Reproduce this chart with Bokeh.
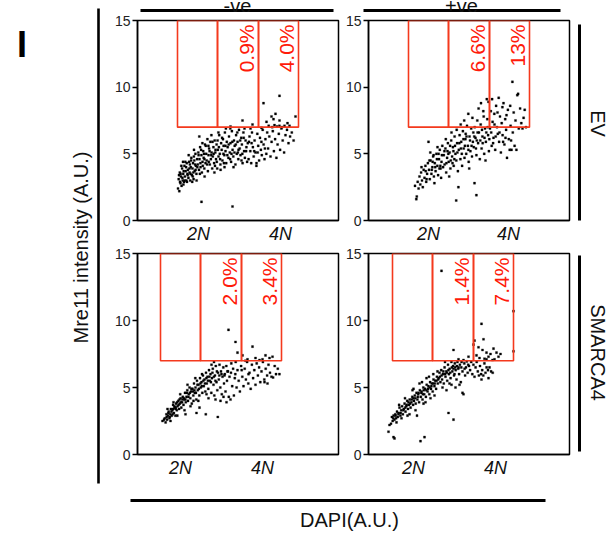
import numpy as np
from bokeh.plotting import figure
from bokeh.layouts import row, column
from bokeh.models import Range1d, FixedTicker
from bokeh.embed import file_html
from bokeh.resources import INLINE
from bokeh.core.properties import value

FONT = "Liberation Sans"

# ---------------- data (DAPI in arbitrary units 0-201, Mre11 in A.U. 0-15) ----------------
ev_neg_pts = [
    (40.5,2.4),(41.2,3.1),(41.8,2.2),(42.3,3.6),(42.9,2.8),(43.4,3.3),(44.1,2.6),(44.6,3.9),(45.2,3.0),(45.7,3.5),
    (46.5,2.9),(46.9,4.1),(47.4,3.3),(48.2,3.7),(48.8,3.0),(49.3,4.3),(49.9,3.5),(41.5,3.4),(43.8,4.1),(45.9,2.7),
    (47.8,4.4),(49.5,2.9),(44.9,3.2),(42.5,2.9),(46.2,3.7),
    (50.4,3.8),(50.9,3.2),(51.6,4.4),(52.1,3.6),(52.7,3.0),(53.3,4.0),(53.8,4.7),(54.4,3.4),(55.0,3.9),(55.5,4.3),
    (56.1,3.1),(56.8,4.5),(57.2,3.7),(57.9,5.0),(58.4,4.1),(58.9,3.5),(59.6,4.6),(51.2,4.9),(54.7,2.9),(56.5,5.3),
    (59.1,3.0),(53.0,3.5),(57.6,4.2),(52.4,4.2),(55.8,3.6),
    (60.3,4.2),(60.8,5.1),(61.5,3.8),(62.0,4.6),(62.6,5.5),(63.1,4.0),(63.9,4.9),(64.4,3.6),(65.0,4.4),(65.7,5.2),
    (66.2,4.7),(66.8,3.9),(67.5,5.7),(68.0,4.3),(68.7,5.0),(69.2,4.5),(69.9,6.1),(70.4,3.7),(71.0,4.9),(71.6,5.4),
    (72.3,4.2),(72.8,5.9),(73.4,4.6),(74.1,5.1),(74.7,3.9),(61.8,6.3),(64.9,5.8),(67.1,3.3),(70.9,5.6),(73.9,6.4),
    (62.9,4.3),(66.5,5.0),
    (75.3,4.8),(75.9,5.5),(76.6,4.3),(77.2,6.0),(77.8,5.1),(78.5,4.6),(79.1,5.7),(79.7,3.9),(80.4,5.3),(81.0,4.8),
    (81.7,6.4),(82.3,5.0),(82.9,4.2),(83.6,5.8),(84.2,5.3),(84.9,4.5),(85.5,6.1),(86.1,5.6),(86.8,4.9),(87.4,6.6),
    (88.0,5.2),(88.7,4.3),(89.3,5.9),(76.9,3.6),(80.9,6.6),(83.1,3.8),(85.9,5.0),(88.4,6.9),(78.0,5.3),(87.0,4.0),
    (90.2,5.5),(90.9,4.7),(91.5,6.3),(92.3,5.1),(93.0,5.8),(93.6,4.4),(94.4,6.7),(95.1,5.3),(95.8,4.8),(96.5,6.0),
    (97.2,5.6),(97.9,4.2),(98.6,6.4),(99.3,5.0),(100.1,5.9),(100.8,4.6),(101.5,6.8),(102.2,5.4),(103.0,4.9),
    (103.7,6.2),(104.4,5.7),(105.1,4.3),(105.9,6.6),(106.6,5.2),(107.4,4.7),(108.1,6.0),(108.9,5.5),(109.6,4.4),
    (92.8,6.9),(96.0,4.0),(99.8,6.6),(104.0,4.5),(107.0,6.9),(94.0,5.0),(101.0,5.3),
    (110.3,5.8),(111.1,4.6),(112.0,6.3),(112.8,5.2),(113.7,4.3),(114.5,6.6),(115.4,5.5),(116.2,4.8),(117.1,6.0),
    (118.0,5.1),(118.9,4.1),(119.8,6.5),(120.7,5.6),(121.6,4.5),(122.5,6.2),(123.4,5.3),(124.3,4.9),(125.2,6.8),
    (126.1,5.7),(127.0,4.6),(127.9,6.1),(128.8,5.0),(129.7,6.6),(113.0,6.9),(119.0,4.3),(124.0,6.95),
    (130.6,5.4),(131.8,6.3),(133.0,4.8),(134.1,5.9),(135.3,6.7),(136.4,5.2),(137.6,6.1),(138.9,4.7),(140.1,5.7),
    (141.3,6.5),(142.6,5.3),(143.9,6.9),(145.2,6.0),(146.6,5.1),(148.0,6.4),(149.5,6.8),(151.0,5.8),(152.6,6.3),
    (154.3,6.6),(156.1,6.0),(131.2,7.1),(134.7,7.0),(137.0,7.15),(139.5,7.05),(141.9,7.1),(144.5,7.0),
    (126,8.8),(142,9.35),(138,8.0),(134,7.8),(142,7.5),(158,7.8),(147,7.1),(105,7.5),(115,7.2),(93,7.05),
    (129,7.4),(150,7.3),(152,7.1),(136,7.6),
    (64,1.4),(95,1.05),
    (43.1,3.5),(45.5,4.4),(47.1,3.0),(48.6,4.0),(50.2,3.4),(51.9,3.9),(53.6,4.5),(55.3,3.3),(56.4,4.8),(58.1,3.8),
    (59.8,4.0),(61.1,4.9),(62.4,3.5),(63.6,5.3),(65.3,4.1),(66.9,4.6),(68.3,5.6),(69.6,4.2),(71.3,4.4),(72.1,5.2),
    (73.7,4.9),(75.0,5.9),(76.2,5.0),(77.5,4.1),(79.3,4.4),(80.1,6.0),(81.4,5.5),(82.6,4.6),(84.6,6.2),(86.4,4.3),
    (87.9,5.6),(89.8,4.9),(91.2,5.7),(92.6,4.6),(94.8,5.9),(96.9,5.1),(98.3,5.7),(100.4,5.1),(102.7,6.0),
    (104.8,5.0),(106.2,6.2),(108.6,5.2),(111.5,5.9),(114.1,5.8),(116.7,5.2),(120.2,5.1),(123.9,5.9),(127.4,5.4),
]

ev_pos_pts = [
    (46.5,2.6),(47.8,1.6),(48.3,1.8),(49.2,2.9),(50.1,2.4),(51.0,3.3),(51.8,2.7),(52.6,3.6),(53.5,3.0),(54.3,2.5),
    (55.2,3.8),(56.0,3.2),(56.9,4.1),(57.7,2.9),(58.6,3.5),(59.4,4.3),(60.0,5.9),(53.0,4.0),(57.2,3.7),
    (60.5,3.8),(61.3,3.1),(62.1,4.5),(62.9,3.5),(63.8,4.0),(64.6,4.8),(65.4,3.3),(66.3,4.3),(67.1,3.7),(67.9,5.0),
    (68.8,4.1),(69.6,3.4),(70.5,4.6),(71.3,5.3),(72.1,3.9),(73.0,4.4),(73.8,5.6),(74.6,4.0),(61.8,5.1),(65.9,2.8),
    (69.0,5.5),(72.6,3.2),(64.2,4.4),(70.9,3.9),
    (75.3,4.9),(76.1,4.2),(76.9,5.4),(77.7,3.6),(78.6,4.7),(79.4,5.8),(80.2,4.4),(81.1,5.1),(81.9,3.9),(82.7,6.0),
    (83.6,4.8),(84.4,5.5),(85.2,4.1),(86.1,6.3),(86.9,5.0),(87.7,1.5),(87.8,4.5),(88.6,5.8),(89.4,3.7),(89.9,2.5),
    (77.3,6.1),(80.7,3.3),(83.0,6.6),(85.8,4.6),(88.2,6.8),(79.0,5.2),(84.0,4.3),
    (90.3,5.3),(91.1,6.4),(91.9,4.6),(92.7,5.9),(93.6,4.1),(94.4,6.7),(95.2,5.4),(96.0,4.7),(96.9,6.1),(97.7,5.0),
    (98.5,7.1),(99.4,5.6),(100.2,4.4),(101.0,6.3),(101.9,5.2),(102.7,6.9),(103.5,4.8),(104.4,5.9),(92.2,7.2),
    (95.7,7.5),(99.8,8.0),(103.9,7.7),(93.3,5.0),(97.2,6.5),(100.7,3.9),(104.8,6.6),(106.0,2.8),(107.9,1.9),
    (105.3,5.5),(106.2,7.0),(107.0,6.2),(107.9,4.9),(108.8,7.5),(109.6,5.8),(110.5,6.6),(111.3,4.6),(112.2,7.2),
    (113.1,5.4),(113.9,6.3),(114.8,8.2),(115.7,5.0),(116.5,6.9),(117.4,5.9),(118.3,9.1),(118.8,7.6),(119.6,6.4),
    (120.4,5.2),(110.1,8.4),(112.5,8.8),(115.2,7.8),(117.0,4.5),(120.0,8.9),(108.3,6.0),(114.2,5.8),(119.2,7.0),
    (121.5,6.9),(122.3,8.2),(123.2,5.6),(123.6,9.1),(124.1,7.4),(125.0,6.2),(125.8,8.0),(126.7,5.3),(127.6,8.6),
    (128.5,7.0),(129.3,6.5),(130.2,9.2),(130.6,5.9),(131.5,7.8),(132.4,5.1),(133.2,7.3),(134.1,6.4),(135.0,8.8),
    (135.9,5.7),(136.7,7.6),(137.6,6.8),(138.5,4.7),(139.4,8.3),(140.3,6.1),(141.2,5.3),(142.1,7.1),(143.0,5.3),
    (143.9,10.4),(144.3,6.6),(145.2,8.1),(146.1,5.6),(147.0,7.5),(147.9,5.3),(148.8,9.4),(149.6,9.5),(150.3,6.9),
    (151.6,8.4),(152.8,7.3),(154.0,6.9),(155.1,7.7),(156.2,8.3),(157.5,7.0),(126.0,7.2),(129.0,8.1),(133.9,8.5),
    (138.0,7.9),(141.7,8.6),
    (58.1,3.1),(60.9,4.5),(63.3,3.8),(65.1,4.9),(66.7,4.0),(68.4,4.6),(70.1,5.0),(71.8,4.1),(73.4,4.9),(75.9,5.2),
    (77.9,4.3),(79.8,5.0),(81.6,5.6),(82.3,4.5),(84.9,5.2),(86.5,5.6),(88.9,5.1),(90.8,5.8),(92.4,5.4),(94.9,6.1),
    (96.4,5.6),(98.0,6.3),(99.9,5.3),(101.5,6.0),(103.1,5.6),(105.8,6.3),(107.5,5.4),(109.1,6.6),(111.8,6.0),
    (113.5,6.8),(116.0,6.2),(117.8,6.6),(120.8,6.1),(122.7,6.6),(124.6,5.8),(127.2,6.3),(131.0,6.6),(134.6,5.9),
    (137.0,6.2),(142.6,6.0),
]

sm_neg_pts = [
    (25.0,2.5),(27.3,2.7),(28.1,2.4),(28.9,3.0),(29.6,2.6),(30.4,2.9),(31.2,3.2),(31.9,2.7),(32.7,3.0),(33.4,3.4),
    (34.2,2.9),(34.9,3.3),(35.6,3.7),(36.4,3.1),(37.1,3.5),(37.9,2.9),(38.6,3.8),(39.3,3.3),(40.1,3.6),(40.8,4.0),
    (41.6,3.4),(42.3,3.8),(43.1,4.2),(43.8,3.5),(44.6,3.9),(30.0,3.4),(33.0,2.5),(36.0,3.9),(39.8,2.9),(42.7,4.5),
    (35.2,3.0),(38.0,3.4),
    (45.3,4.3),(46.0,3.7),(46.8,4.1),(47.5,4.6),(48.3,3.9),(49.0,4.3),(49.8,4.8),(50.5,4.0),(51.3,4.5),(52.0,5.0),
    (52.8,4.2),(53.5,4.7),(54.3,3.8),(55.0,4.9),(55.8,4.4),(56.5,5.3),(57.3,4.6),(58.0,5.0),(58.8,4.1),(59.5,5.5),
    (60.3,4.8),(61.0,5.2),(61.8,4.4),(62.5,5.7),(63.3,5.0),(64.0,5.4),(64.8,4.6),(47.0,3.3),(50.0,5.2),(53.0,3.6),
    (56.0,4.0),(59.0,3.1),(62.0,3.5),(64.5,6.0),(48.0,3.0),(57.8,5.7),(60.8,4.0),
    (65.5,5.9),(66.3,5.1),(67.0,5.6),(67.8,4.7),(68.3,3.0),(68.5,6.1),(69.3,5.3),(70.0,5.8),(70.8,4.9),(71.5,6.3),
    (72.3,5.5),(73.0,6.0),(73.8,4.6),(74.5,5.7),(75.3,6.4),(76.0,5.2),(76.8,4.4),(77.5,5.9),(78.3,6.6),(79.0,5.4),
    (79.8,4.8),(80.3,2.8),(80.5,6.1),(81.3,5.6),(82.0,6.7),(82.8,5.0),(83.5,6.2),(84.3,4.5),(85.0,5.8),(85.8,6.5),
    (86.5,5.3),(87.3,6.0),(88.0,4.7),(88.8,6.6),(89.5,5.5),(71.0,4.2),(74.0,6.7),(78.0,4.1),(83.0,4.0),(86.0,4.3),
    (89.0,3.9),(69.0,4.5),(76.5,6.9),
    (90.5,6.2),(91.3,4.3),(92.0,5.8),(93.0,4.1),(93.8,6.8),(94.7,5.1),(95.6,6.4),(96.4,4.4),(97.3,5.7),(98.2,6.9),
    (99.1,5.0),(100.0,6.3),(101.2,5.5),(102.4,4.7),(103.6,6.6),(104.8,5.8),(106.0,5.1),(107.2,6.4),(108.4,5.6),
    (109.6,6.9),(110.8,5.3),(112.0,6.1),(113.2,4.9),(114.4,6.7),(115.6,5.7),(116.8,6.3),(118.0,5.2),(119.2,6.8),
    (120.4,5.9),(121.6,6.5),(122.8,5.4),(124.0,6.2),(125.4,6.9),(126.8,5.6),(128.2,6.4),(129.6,5.9),(131.0,6.7),
    (132.5,6.1),(134.0,5.8),(135.6,5.75),(137.2,6.6),(138.5,6.0),(140.3,6.4),(141.9,6.0),(130.0,5.3),(127.0,5.4),
    (91,9.3),(98,8.4),(115,8.05),(100,7.6),(105,7.4),(128,7.4),(110,7.1),(118,7.2),(122,7.05),(132,7.2),
    (135,7.3),(108,7.0),(125,7.1),
    (26.5,2.6),(29.2,2.8),(30.8,3.1),(32.3,2.8),(33.9,3.2),(35.5,3.4),(36.9,3.6),(38.3,3.5),(39.6,3.9),(41.1,3.7),
    (42.0,4.1),(43.5,3.9),(44.9,4.1),(46.4,4.2),(47.9,4.1),(49.4,4.6),(50.9,4.3),(52.4,4.6),(53.9,4.9),(55.4,4.7),
    (56.9,4.8),(58.4,4.6),(59.9,5.2),(61.4,4.9),(62.9,5.3),(64.3,5.1),(65.8,5.5),(67.4,5.3),(68.9,5.7),(70.4,5.5),
    (71.9,5.8),(73.4,5.4),(74.9,6.1),(76.4,5.8),(77.9,5.5),(79.4,6.2),(81.8,5.9),(84.0,6.0),(86.9,5.9),(89.9,6.2),
    (93.5,6.1),(97.8,6.0),(104.2,6.3),(111.0,6.0),
]

sm_pos_pts = [
    (20,1.7),(21,2.2),(25,1.3),(26,1.2),(52,1.0),(56,1.3),(80,3.1),(85,2.6),(94,4.6),(95,4.5),
    (22.5,2.3),(23.4,2.8),(24.2,2.5),(25.1,2.9),(25.9,2.6),(26.8,3.0),(27.6,2.7),(28.5,3.2),(29.3,2.8),(30.2,3.1),
    (31.0,3.5),(31.9,2.9),(32.7,3.3),(33.6,3.6),(34.4,3.0),(35.3,3.4),(36.1,3.8),(37.0,3.2),(37.8,3.6),(38.7,4.0),
    (39.5,3.4),(40.4,3.7),(41.2,4.1),(42.1,3.5),(42.9,3.9),(43.8,4.3),(44.6,3.7),(28.0,2.4),(33.0,2.7),(36.5,4.2),
    (41.0,3.0),(44.0,4.8),(30.6,3.7),(39.0,2.9),
    (45.5,4.0),(46.3,4.4),(47.2,3.8),(48.0,4.6),(48.9,4.1),(49.7,4.5),(50.6,3.9),(51.4,4.8),(52.3,4.3),(53.1,4.7),
    (54.0,4.1),(54.8,5.0),(55.7,4.5),(56.5,4.9),(57.4,4.3),(58.2,5.2),(59.1,4.7),(59.9,5.1),(60.8,4.5),(61.6,5.4),
    (62.5,4.9),(63.3,5.3),(64.2,4.7),(65.0,5.6),(65.9,5.1),(66.7,5.5),(67.6,4.9),(68.4,5.8),(69.3,5.3),(47.0,3.3),
    (51.0,5.3),(55.0,3.8),(58.0,5.7),(62.0,4.2),(66.0,4.4),(69.0,6.2),(53.5,5.4),(60.5,5.8),(64.8,6.0),(57.0,3.9),
    (48.5,2.9),(45.0,4.9),
    (70.2,5.7),(71.0,6.1),(71.9,5.4),(72.7,6.3),(73.6,5.6),(74.4,6.0),(75.3,5.3),(76.1,6.5),(77.0,5.8),(77.8,6.2),
    (78.7,5.5),(79.5,6.7),(80.4,6.0),(81.2,6.4),(82.1,5.7),(82.9,6.9),(83.8,6.2),(84.6,6.6),(85.5,5.9),(86.3,6.8),
    (87.2,6.3),(88.0,5.6),(88.9,6.9),(89.7,6.4),(90.6,6.0),(91.4,6.7),(92.3,5.4),(93.1,6.9),(94.0,6.2),(95.8,6.8),
    (96.6,5.9),(97.5,6.5),(98.3,6.95),(99.2,6.1),(74.0,5.0),(78.0,4.8),(83.0,5.2),(87.0,5.0),(91.0,5.2),(76.5,6.9),
    (81.0,5.3),(86.0,6.0),
    (100.5,6.6),(101.6,6.3),(102.7,6.9),(103.8,6.0),(104.9,6.7),(106.0,5.8),(107.1,6.5),(108.2,6.9),(109.3,6.2),
    (110.4,5.9),(111.5,6.6),(112.6,6.0),(113.7,6.3),(114.8,5.9),(115.9,6.8),(117.0,6.1),(118.1,6.5),(119.5,6.3),
    (121.0,6.5),(122.6,6.2),(124.2,6.1),(120.0,5.7),(113.0,5.6),
    (73,13.7),(145,10.7),(113,9.75),(145,7.7),(85,7.8),(105,8.2),(106,8.5),(115,8.6),(114,7.8),(118,7.6),
    (122,7.5),(125,7.9),(128,7.6),(118,7.1),(126,7.1),(110,8.0),(130,7.3),(100,7.3),(95,7.05),(90,7.1),
    (108,7.4),(111,7.2),(120,7.3),(124,7.05),(132,7.5),(116,7.15),
    (24.7,2.7),(27.1,2.9),(29.9,3.0),(32.2,3.1),(34.8,3.3),(36.8,3.5),(38.2,3.7),(40.0,3.9),(41.7,3.8),(43.3,4.1),
    (44.9,4.2),(46.8,4.2),(49.3,4.3),(50.1,4.6),(52.8,4.6),(54.4,4.5),(55.3,4.8),(57.8,4.8),(59.5,4.9),(61.2,5.0),
    (62.9,5.1),(64.6,5.3),(66.3,5.3),(68.0,5.5),(69.7,5.6),(71.4,5.8),(73.1,5.9),(74.8,6.2),(76.6,6.0),(78.3,6.1),
    (79.9,6.3),(81.7,6.1),(83.4,6.5),(85.0,6.4),(86.7,6.5),(88.4,6.6),(90.1,6.5),(92.8,6.5),(96.1,6.4),(99.7,6.7),
]

# gate boundaries (DAPI) and Mre11 threshold
ev_neg_gates = [40, 80, 121, 161]
ev_pos_gates = [40, 80, 121, 161]
sm_neg_gates = [23, 63, 104, 144]
sm_pos_gates = [24, 64, 105, 145]
gate_low, gate_high = 7, 15

ev_neg_pct = ["0.9%", "4.0%"]
ev_pos_pct = ["6.6%", "13%"]
sm_neg_pct = ["2.0%", "3.4%"]
sm_pos_pct = ["1.4%", "7.4%"]

ev_neg_ticks = [61, 143]
ev_pos_ticks = [60, 140]
sm_neg_ticks = [43, 125]
sm_pos_ticks = [45, 127]
ploidy_labels = ["2N", "4N"]

y_ticks = [0, 5, 10, 15]
col_labels = ["-ve", "+ve"]
row_labels = ["EV", "SMARCA4"]

GATE_COLOR = "#f4391d"
PCT_COLOR = "#ff1a0a"


def panel(pts, gates, pcts, ticks, width, height, bl, br, bt, bb):
    p = figure(width=width, height=height, x_range=Range1d(0, 201), y_range=Range1d(0, 15),
               output_backend="svg", toolbar_location=None,
               min_border_left=bl, min_border_right=br, min_border_top=bt, min_border_bottom=bb)
    p.grid.visible = False
    p.outline_line_color = "black"
    p.outline_line_width = 1.5
    p.background_fill_color = "white"
    p.border_fill_color = "white"

    xs = [a for a, b in pts]
    ys = [b for a, b in pts]
    p.scatter(xs, ys, marker="square", size=2.1, fill_color="black", line_color="black", line_width=0.3)

    p.quad(left=gates[:-1], right=gates[1:], bottom=[gate_low] * 3, top=[gate_high] * 3,
           fill_color=None, line_color=GATE_COLOR, line_width=1.6)
    p.text(x=[gates[2] - 12, gates[3] - 12], y=[gate_high - 0.3] * 2, text=pcts, angle=np.pi / 2,
           text_align="right", text_baseline="alphabetic", text_font=value(FONT),
           text_font_size="21px", text_color=PCT_COLOR)

    xa = p.xaxis[0]
    xa.ticker = FixedTicker(ticks=ticks)
    xa.major_label_overrides = {ticks[0]: ploidy_labels[0], ticks[1]: ploidy_labels[1]}
    xa.major_tick_out = 0
    xa.major_tick_in = 0
    xa.minor_tick_out = 0
    xa.minor_tick_in = 0
    xa.major_label_standoff = 3
    xa.major_label_text_font = FONT
    xa.major_label_text_font_style = "italic"
    xa.major_label_text_font_size = "18px"
    xa.major_label_text_color = "#111111"
    xa.axis_line_width = 1.5
    xa.axis_line_color = "black"

    ya = p.yaxis[0]
    ya.ticker = FixedTicker(ticks=y_ticks)
    ya.major_tick_out = 5
    ya.major_tick_in = 0
    ya.minor_tick_out = 0
    ya.minor_tick_in = 0
    ya.major_tick_line_width = 1.3
    ya.major_tick_line_color = "black"
    ya.major_label_standoff = 2
    ya.major_label_text_font = FONT
    ya.major_label_text_font_size = "14px"
    ya.major_label_text_color = "#222222"
    ya.axis_line_width = 1.5
    ya.axis_line_color = "black"
    return p


def deco(w, h):
    p = figure(width=w, height=h, x_range=Range1d(0, w), y_range=Range1d(h, 0),
               output_backend="svg", toolbar_location=None, min_border=0,
               min_border_left=0, min_border_right=0, min_border_top=0, min_border_bottom=0,
               x_axis_location=None, y_axis_location=None)
    p.grid.visible = False
    p.outline_line_color = None
    p.background_fill_color = "white"
    p.border_fill_color = "white"
    return p


tl = panel(ev_neg_pts, ev_neg_gates, ev_neg_pct, ev_neg_ticks, 232, 234, 29, 2, 8, 25)
tr = panel(ev_pos_pts, ev_pos_gates, ev_pos_pct, ev_pos_ticks, 232, 234, 28, 3, 8, 25)
bl = panel(sm_neg_pts, sm_neg_gates, sm_neg_pct, sm_neg_ticks, 232, 234, 29, 2, 7, 26)
br = panel(sm_pos_pts, sm_pos_gates, sm_pos_pct, sm_pos_ticks, 232, 234, 28, 3, 7, 26)

# left strip: panel letter, y title, bracket line
left = deco(108, 533)
left.text(x=[21.5], y=[44], text=["I"], text_font=value(FONT), text_font_style="bold",
          text_font_size="36px", text_align="center", text_baseline="middle", text_color="black")
left.segment(x0=[98], y0=[8], x1=[98], y1=[483], line_width=2.6, line_color="black")
left.text(x=[80], y=[247], text=["Mre11 intensity (A.U.)"], angle=np.pi / 2, text_font=value(FONT),
          text_font_size="20px", text_align="center", text_baseline="middle", text_color="#111111")

# top strip: column headers (cut by the page top, as in the original)
top = deco(464, 12)
top.segment(x0=[32, 255], y0=[10, 10], x1=[225, 452], y1=[10, 10], line_width=3, line_color="black")
top.text(x=[129, 353], y=[5, 5], text=col_labels, text_font=value(FONT), text_font_size="20px",
         text_align="center", text_baseline="alphabetic", text_color="#111111")

# bottom strip: x title
bottom = deco(464, 53)
bottom.segment(x0=[22], y0=[20], x1=[437], y1=[20], line_width=3, line_color="black")
bottom.text(x=[241], y=[39], text=["DAPI(A.U.)"], text_font=value(FONT), text_font_size="20px",
            text_align="center", text_baseline="middle", text_color="#111111")

# right strip: row labels
right = deco(36, 533)
right.segment(x0=[7, 7], y0=[24, 255], x1=[7, 7], y1=[220, 451], line_width=3, line_color="black")
right.text(x=[25, 25], y=[123, 352], text=row_labels, angle=-np.pi / 2, text_font=value(FONT),
           text_font_size="20px", text_align="center", text_baseline="middle", text_color="#111111")

mid = column(top, row(tl, tr), row(bl, br), bottom)
root = row(left, mid, right)

open("out.html", "w").write(file_html(root, INLINE))
